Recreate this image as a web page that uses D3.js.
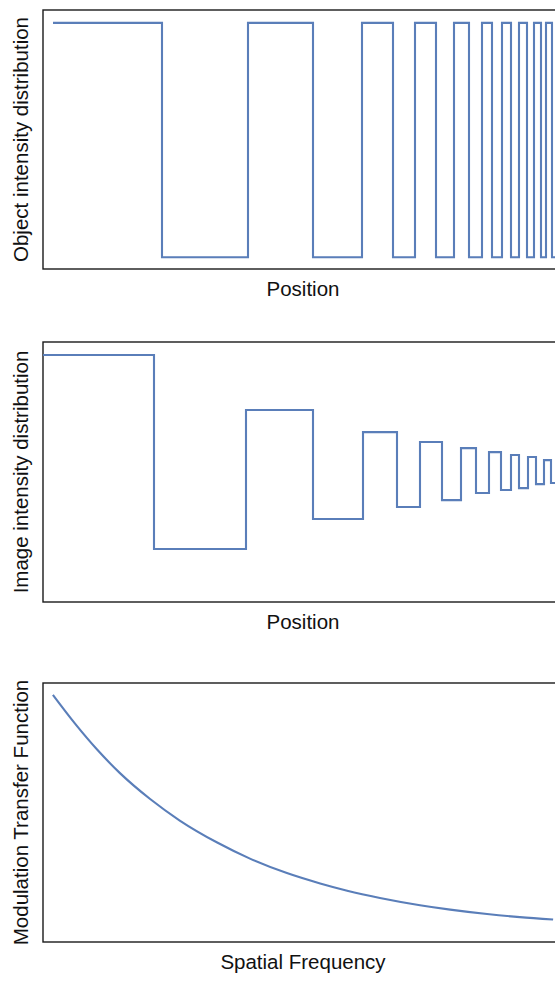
<!DOCTYPE html>
<html>
<head>
<meta charset="utf-8">
<script src="https://cdn.jsdelivr.net/npm/d3@7"></script>
<style>
  body { margin: 0; background: white; overflow: hidden; }
  svg { display: block; }
</style>
</head>
<body>
<div id="vis"></div>
<script>
// Data (position units 0..520 across the frame)
const objectEdges = [10, 119, 205, 270, 319, 350, 372, 393, 411, 426, 439, 449, 459, 468, 476, 484, 491, 498, 503, 509, 520];
const objectLevels = [1, 0, 1, 0, 1, 0, 1, 0, 1, 0, 1, 0, 1, 0, 1, 0, 1, 0, 1, 0];

const imageEdges = [0, 111, 203, 270, 320, 354, 377, 399, 418, 433, 446, 458, 468, 476, 485, 493, 501, 508, 520];
const imageLevels = [1.0, 0.175, 0.766, 0.303, 0.672, 0.354, 0.630, 0.383, 0.604, 0.413, 0.587, 0.426, 0.575, 0.434, 0.566, 0.451, 0.553, 0.456];

// MTF curve, frequency 0..100 across the frame
const mtfFreq = [1.9, 6.2, 10.4, 14.8, 20.6, 26.3, 33.5, 39.8, 46.9, 53.3, 58.5, 64.8, 72.5, 78.3, 85.4, 91.7, 98.1];
const mtfValue = [0.954, 0.842, 0.743, 0.652, 0.552, 0.469, 0.384, 0.322, 0.266, 0.226, 0.198, 0.170, 0.142, 0.125, 0.108, 0.096, 0.087];

const yLabels = ["Object intensity distribution", "Image intensity distribution", "Modulation Transfer Function"];
const xLabels = ["Position", "Position", "Spatial Frequency"];

// Layout
const ancho = 555, alto = 981;
const izquierda = 43, derecha = 563;
const paneles = [
  { arriba: 10, abajo: 269 },
  { arriba: 342, abajo: 602 },
  { arriba: 683, abajo: 942 }
];
const colorLinea = "#5a7eb9";
const fuente = "'Liberation Sans', Arial, Helvetica, sans-serif";

const svg = d3.select("#vis").append("svg")
  .attr("width", ancho)
  .attr("height", alto);

function stepPoints(edges, levels) {
  const pts = levels.map((v, i) => [edges[i], v]);
  pts.push([edges[edges.length - 1], levels[levels.length - 1]]);
  return pts;
}

paneles.forEach((p, k) => {
  const x = k < 2
    ? d3.scaleLinear().domain([0, 520]).range([izquierda, derecha])
    : d3.scaleLinear().domain([0, 100]).range([izquierda, derecha]);
  const y = k < 2
    ? d3.scaleLinear().domain([-0.05, 1.055]).range([p.abajo, p.arriba])
    : d3.scaleLinear().domain([0, 1]).range([p.abajo, p.arriba]);

  const g = svg.append("g");

  // frame
  g.append("rect")
    .attr("x", izquierda)
    .attr("y", p.arriba)
    .attr("width", derecha - izquierda)
    .attr("height", p.abajo - p.arriba)
    .attr("fill", "none")
    .attr("stroke", "#1a1a1a")
    .attr("stroke-width", 1.4);

  let d;
  if (k === 0) {
    d = d3.line().x(e => x(e[0])).y(e => y(e[1])).curve(d3.curveStepAfter)(stepPoints(objectEdges, objectLevels));
  } else if (k === 1) {
    d = d3.line().x(e => x(e[0])).y(e => y(e[1])).curve(d3.curveStepAfter)(stepPoints(imageEdges, imageLevels));
  } else {
    d = d3.line().x((e, i) => x(mtfFreq[i])).y(e => y(e)).curve(d3.curveMonotoneX)(mtfValue);
  }

  g.append("path")
    .attr("d", d)
    .attr("fill", "none")
    .attr("stroke", colorLinea)
    .attr("stroke-width", 2.1)
    .attr("stroke-linejoin", "miter");

  // x label
  g.append("text")
    .attr("x", (izquierda + derecha) / 2)
    .attr("y", p.abajo + 27)
    .attr("text-anchor", "middle")
    .attr("font-family", fuente)
    .attr("font-size", "20.5px")
    .attr("fill", "#111")
    .text(xLabels[k]);

  // y label
  g.append("text")
    .attr("transform", `translate(28,${(p.arriba + p.abajo) / 2}) rotate(-90)`)
    .attr("text-anchor", "middle")
    .attr("font-family", fuente)
    .attr("font-size", "20.5px")
    .attr("fill", "#111")
    .text(yLabels[k]);
});
</script>
</body>
</html>
